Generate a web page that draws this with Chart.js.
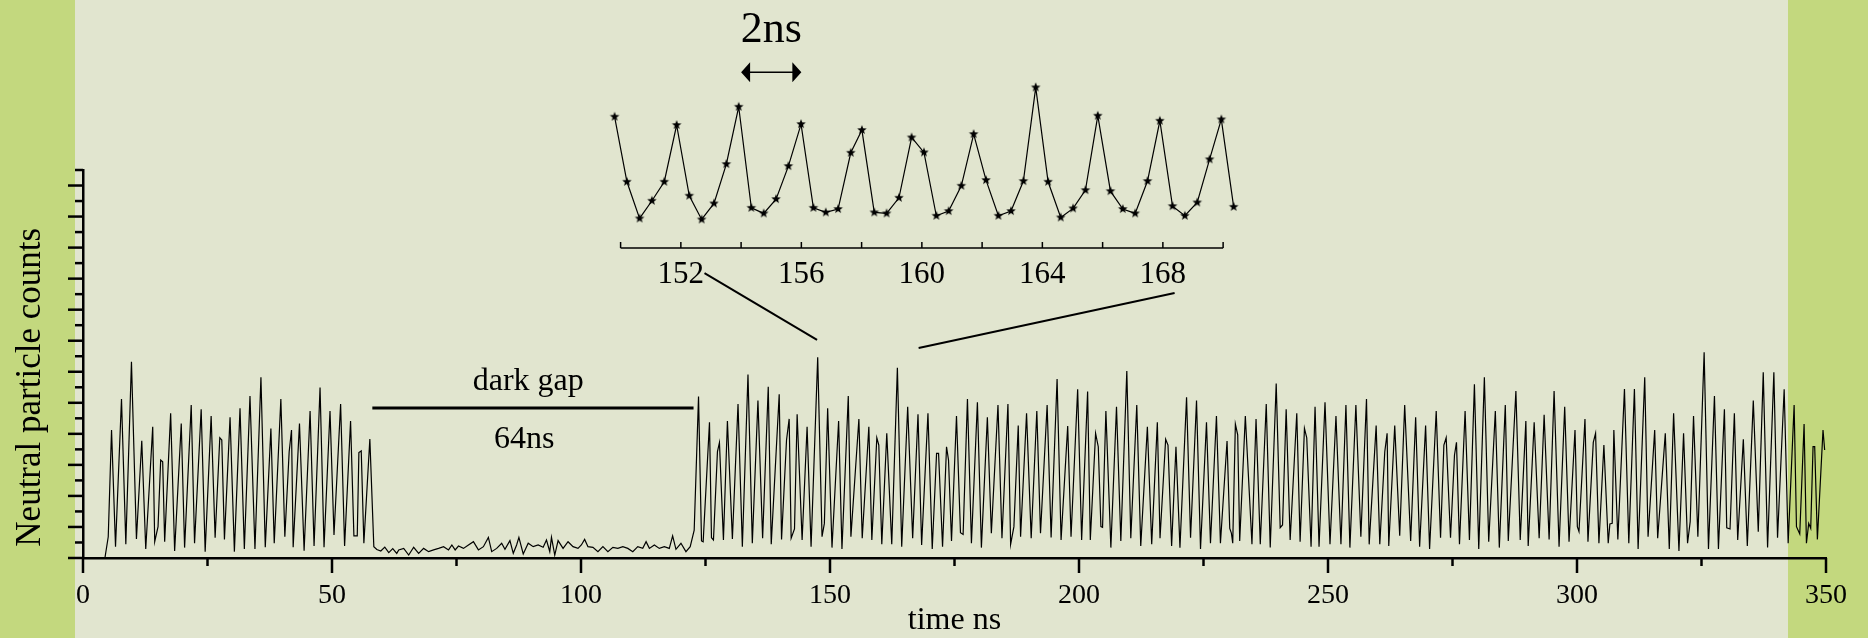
<!DOCTYPE html>
<html>
<head>
<meta charset="utf-8">
<script src="https://cdn.jsdelivr.net/npm/chart.js@4.4.1/dist/chart.umd.min.js"></script>
<style>
  html, body { margin: 0; padding: 0; }
  body {
    width: 1868px; height: 638px; position: relative; overflow: hidden;
    background: linear-gradient(to right, #c3d87e 0 75px, #e1e5cf 75px 1788px, #c3d87e 1788px);
  }
  #main { position: absolute; left: 0; top: 0; }
  #inset { position: absolute; left: 560px; top: 0; }
</style>
</head>
<body>
<canvas id="main" width="1868" height="638"></canvas>
<canvas id="inset" width="720" height="300"></canvas>
<script>
// time (ns), counts: peaks and valleys
const pulsesBeforeGap = [
    [4.4,0],[5.07,1.37],[5.73,8.25],[6.53,0.73],[7.73,10.24],[8.6,0.88],[9.73,12.65],[10.73,1.22],
    [11.8,7.56],[12.6,0.58],[14.0,8.46],[14.4,1.05],[15.07,2.02],[15.6,6.31],[16.0,6.2],[16.4,1.05],
    [17.6,9.32],[18.4,0.45],[19.73,8.66],[20.4,0.67],[21.73,9.86],[22.4,0.95],[23.73,9.58],[24.53,0.41],
    [25.73,9.15],[26.53,1.31],[27.47,7.75],[27.87,7.6],[28.4,1.2],[29.53,9.06],[30.4,0.41],[31.53,9.64],
    [32.4,0.58],[33.53,10.44],[34.53,0.58],[35.73,11.64],[36.6,0.69],[37.73,8.35],[38.4,0.95],[39.73,10.24],
    [40.53,1.37],[41.4,6.85],[41.87,8.25],[42.2,0.69],[43.47,8.66],[44.4,0.47],[45.6,9.47],[46.4,0.77],
    [47.6,10.98],[48.4,0.69],[49.6,9.47],[50.4,1.48],[51.73,9.92],[52.53,0.77],[53.73,8.83],[54.4,1.42],
    [55.07,1.42],[55.4,6.8],[55.87,6.9],[56.4,0.95],[57.6,7.67],[58.4,0.73]
];
const darkGapNoise = [
    [59.0,0.55],[59.8,0.45],[60.6,0.7],[61.4,0.35],[62.2,0.6],[63.0,0.3],[63.4,0.52],[64.4,0.62],
    [65.4,0.19],[66.4,0.69],[67.4,0.3],[68.4,0.62],[69.4,0.41],[70.4,0.52],[71.4,0.62],[72.4,0.73],
    [73.4,0.52],[74.07,0.84],[74.73,0.52],[75.4,0.77],[76.4,0.62],[77.4,0.84],[78.4,1.05],[79.4,0.52],
    [80.4,0.73],[81.4,1.33],[82.07,0.41],[83.07,0.62],[84.07,0.95],[84.73,0.56],[85.73,1.12],[86.4,0.3],
    [87.07,0.84],[87.53,1.33],[88.4,0.26],[89.4,0.95],[90.4,0.73],[91.4,0.84],[92.4,0.69],[93.07,1.16],
    [93.73,0.41],[94.07,1.33],[94.73,0.19],[95.4,1.12],[96.4,0.62],[97.4,1.05],[98.4,0.73],[99.4,0.62],
    [100.07,0.84],[100.73,1.2],[101.4,0.73],[102.4,0.69],[103.4,0.41],[104.4,0.73],[105.4,0.41],[106.4,0.69],
    [107.4,0.62],[108.4,0.73],[109.4,0.62],[110.4,0.41],[111.4,0.73],[112.4,0.62],[113.07,1.05],[113.73,0.62],
    [114.73,0.84],[115.73,0.62],[116.73,0.73],[117.73,0.62],[118.4,1.42],[119.07,0.56],[120.07,0.95],[121.07,0.41],
    [121.93,0.73],[122.73,1.8]
];
const pulsesAfterGap = [
    [123.6,10.4],[124.2,1.1],[124.53,1.05],[125.8,8.74],[126.2,1.31],[126.6,1.16],[127.4,6.85],[127.8,7.43],
    [128.6,1.16],[129.4,8.83],[130.4,1.22],[131.53,9.92],[132.4,0.73],[133.53,11.83],[134.4,0.95],[135.53,10.14],
    [136.47,1.27],[137.6,11.04],[138.2,0.88],[139.8,10.55],[140.27,1.2],[141.27,7.6],[141.8,8.96],[142.2,1.27],
    [142.87,1.87],[143.4,9.26],[144.4,1.16],[145.4,8.46],[146.2,0.73],[147.53,12.93],[148.4,1.37],[148.87,2.23],
    [149.53,9.64],[150.4,0.67],[151.73,8.83],[152.4,0.58],[153.67,10.44],[154.2,1.37],[155.8,8.96],[156.47,1.27],
    [157.8,8.46],[158.4,1.16],[159.4,7.75],[159.8,7.28],[160.4,0.88],[161.4,8.03],[162.4,0.88],[163.53,12.26],
    [164.4,0.73],[165.6,9.75],[166.6,1.27],[167.67,9.26],[168.4,0.84],[169.67,9.32],[170.53,0.58],[171.4,6.74],
    [171.8,6.74],[172.6,0.73],[173.4,7.17],[173.8,6.31],[174.4,1.1],[175.4,9.15],[176.2,1.63],[176.73,1.52],
    [177.6,10.24],[178.4,0.95],[179.6,10.03],[180.4,0.67],[181.6,9.06],[182.4,1.59],[183.73,9.86],[184.53,1.27],
    [185.73,9.92],[186.27,0.88],[186.93,2.02],[187.8,8.53],[188.27,1.37],[189.47,9.32],[190.4,1.27],[191.53,9.47],
    [192.27,1.59],[193.6,9.86],[194.4,1.33],[195.6,11.53],[196.4,1.16],[197.73,8.51],[198.4,1.37],[199.73,10.87],
    [200.53,1.16],[201.73,10.72],[202.27,1.16],[203.33,8.03],[203.87,7.17],[204.4,2.02],[204.73,1.98],[205.4,9.47],
    [206.4,0.67],[207.53,9.75],[208.4,1.1],[209.6,12.05],[210.4,1.27],[211.6,9.86],[212.4,0.77],[213.73,8.46],
    [214.6,0.88],[215.73,8.74],[216.27,1.27],[217.4,7.65],[217.87,7.28],[218.6,0.77],[219.47,7.17],[220.27,0.67],
    [221.6,10.35],[222.4,1.31],[223.6,10.14],[224.4,0.58],[225.6,8.74],[226.4,0.95],[227.6,9.15],[228.4,0.95],
    [229.73,7.54],[230.27,1.91],[230.6,1.6],[230.87,0.95],[231.4,8.63],[231.87,7.93],[232.27,1.1],[233.4,9.15],
    [234.73,0.88],[235.55,8.96],[236.4,0.88],[237.6,9.92],[238.4,0.67],[239.6,11.25],[240.4,1.95],[240.87,2.13],
    [241.6,9.58],[242.4,1.16],[243.73,9.32],[244.4,1.05],[245.27,8.35],[245.73,7.75],[246.6,0.73],[247.4,9.75],
    [248.2,0.73],[249.4,10.03],[250.4,0.88],[251.6,9.15],[252.6,0.88],[253.6,9.86],[254.4,0.67],[255.6,9.86],
    [256.6,1.37],[257.73,10.24],[258.27,0.88],[259.67,8.53],[260.4,0.88],[261.4,6.85],[261.87,8.03],[262.2,0.77],
    [263.4,8.53],[264.4,1.44],[265.4,9.86],[266.6,1.1],[267.6,9.06],[268.4,0.73],[269.6,8.53],[270.4,0.58],
    [271.73,9.47],[272.6,1.31],[273.27,7.28],[273.73,7.75],[274.6,1.31],[275.4,6.64],[275.8,7.45],[276.4,0.88],
    [277.53,9.47],[278.4,1.16],[279.4,11.19],[280.27,0.58],[281.4,11.64],[282.27,1.05],[283.6,9.47],[284.4,0.67],
    [285.6,9.86],[286.2,1.1],[287.73,10.76],[288.6,1.16],[289.73,8.83],[290.2,0.77],[291.4,8.74],[292.4,1.27],
    [293.4,9.23],[294.4,1.2],[295.4,10.76],[296.4,0.73],[297.53,9.75],[298.4,1.05],[299.6,8.25],[300.07,2.02],
    [300.4,1.7],[301.6,8.96],[302.2,1.05],[303.27,7.45],[303.73,8.03],[304.4,0.95],[305.4,7.28],[306.27,0.95],
    [306.6,2.19],[307.07,2.23],[307.4,8.25],[308.2,1.2],[309.53,10.89],[310.4,0.95],[311.53,10.89],[312.27,0.58],
    [313.6,11.64],[314.27,1.37],[315.6,8.25],[316.2,1.27],[317.73,8.03],[318.53,0.58],[319.4,9.32],[320.47,0.45],
    [321.4,8.03],[322.2,0.95],[322.73,2.34],[323.4,9.15],[324.27,1.37],[325.53,13.25],[326.4,0.58],[327.6,10.44],
    [328.4,0.58],[329.6,9.58],[330.07,1.95],[330.73,1.87],[331.6,9.32],[332.27,1.16],[333.4,7.65],[334.2,0.77],
    [335.4,10.14],[336.4,1.7],[337.4,11.96],[338.27,0.67],[339.53,11.96],[340.27,1.31],[341.6,10.87],[342.4,0.95],
    [343.6,9.86],[344.07,2.02],[344.73,1.55],[345.6,8.63],[346.07,0.95],[346.53,2.23],[346.93,1.91],[347.4,7.17],
    [347.73,7.17],[348.27,1.2],[349.4,8.25],[349.73,6.96]
];

// inset: sampled trace between 150 and 170 ns
const insetTime = [149.8,150.21,150.63,151.04,151.45,151.86,152.28,152.69,153.1,153.51,153.92,154.34,154.75,
    155.16,155.57,155.99,156.4,156.81,157.22,157.64,158.01,158.42,158.83,159.24,159.66,160.07,160.48,160.89,
    161.31,161.72,162.13,162.54,162.96,163.37,163.78,164.19,164.61,165.02,165.43,165.84,166.26,166.67,167.08,
    167.49,167.9,168.32,168.73,169.14,169.55,169.94,170.35];
const insetCounts = [9.63,3.82,0.54,2.12,3.82,8.89,2.57,0.45,1.88,5.4,10.52,1.49,0.99,2.27,5.22,8.97,1.49,
    1.08,1.38,6.41,8.44,1.08,0.99,2.39,7.78,6.44,0.78,1.2,3.46,8.08,3.97,0.78,1.2,3.88,12.25,3.82,0.63,1.44,
    3.07,9.72,2.98,1.38,0.99,3.88,9.27,1.64,0.78,1.97,5.82,9.39,1.58];
const insetTicks = [150, 152, 154, 156, 158, 160, 162, 164, 166, 168, 170];

const serif = 'Liberation Serif, Times New Roman, serif';

// filled five point star used as point marker
function starMarker(r) {
    const c = document.createElement('canvas');
    c.width = c.height = r * 2 + 2;
    const g = c.getContext('2d');
    g.translate(r + 1, r + 1);
    g.beginPath();
    for (let i = 0; i < 10; i++) {
        const rad = i % 2 === 0 ? r : r * 0.42;
        const a = -Math.PI / 2 + i * Math.PI / 5;
        g.lineTo(Math.cos(a) * rad, Math.sin(a) * rad);
    }
    g.closePath();
    g.fillStyle = '#000';
    g.fill();
    return c;
}

function line(ctx, x1, y1, x2, y2) {
    ctx.beginPath();
    ctx.moveTo(x1, y1);
    ctx.lineTo(x2, y2);
    ctx.stroke();
}

const mainDecor = {
    id: 'mainDecor',
    afterDraw(chart) {
        const { ctx, scales: { x, y } } = chart;
        ctx.save();
        ctx.strokeStyle = '#000';
        ctx.fillStyle = '#000';
        ctx.lineWidth = 2.5;
        x.ticks.forEach(t => {
            const px = x.getPixelForValue(t.value);
            line(ctx, px, x.top, px, x.top + (t.value % 50 === 0 ? 15 : 8));
        });
        y.ticks.forEach(t => {
            const py = y.getPixelForValue(t.value);
            line(ctx, y.right, py, y.right - (t.value % 2 === 0 ? 15 : 8), py);
        });

        // dark gap marker
        ctx.lineWidth = 3;
        line(ctx, x.getPixelForValue(58.1), y.getPixelForValue(9.66), x.getPixelForValue(122.6), y.getPixelForValue(9.66));
        ctx.font = '32px ' + serif;
        ctx.textAlign = 'center';
        ctx.textBaseline = 'alphabetic';
        ctx.fillText('dark gap', x.getPixelForValue(89.4), y.getPixelForValue(10.82));
        ctx.fillText('64ns', x.getPixelForValue(88.6), y.getPixelForValue(7.09));

        // zoom connectors
        ctx.lineWidth = 2;
        line(ctx, x.getPixelForValue(124.8), y.getPixelForValue(18.36), x.getPixelForValue(147.4), y.getPixelForValue(14.05));
        line(ctx, x.getPixelForValue(219.2), y.getPixelForValue(17.07), x.getPixelForValue(167.8), y.getPixelForValue(13.53));

        // y title
        ctx.translate(y.left + 31, y.getPixelForValue(11));
        ctx.rotate(-Math.PI / 2);
        ctx.font = '35px ' + serif;
        ctx.textBaseline = 'middle';
        ctx.fillText('Neutral particle counts', 0, 0);
        ctx.restore();
    }
};

const insetDecor = {
    id: 'insetDecor',
    afterDraw(chart) {
        const { ctx, scales: { x, y } } = chart;
        ctx.save();
        ctx.strokeStyle = '#000';
        ctx.fillStyle = '#000';
        ctx.lineWidth = 1.5;
        line(ctx, x.getPixelForValue(150), x.top, x.getPixelForValue(170), x.top);
        x.ticks.forEach(t => {
            const px = x.getPixelForValue(t.value);
            line(ctx, px, x.top, px, x.top - 6);
        });
        // 2 ns arrow
        const x1 = x.getPixelForValue(154), x2 = x.getPixelForValue(156), ay = y.getPixelForValue(13.6);
        line(ctx, x1 + 6, ay, x2 - 6, ay);
        ctx.beginPath();
        ctx.moveTo(x1, ay); ctx.lineTo(x1 + 9, ay - 10); ctx.lineTo(x1 + 9, ay + 10); ctx.closePath();
        ctx.moveTo(x2, ay); ctx.lineTo(x2 - 9, ay - 10); ctx.lineTo(x2 - 9, ay + 10); ctx.closePath();
        ctx.fill();
        ctx.font = '44px ' + serif;
        ctx.textAlign = 'center';
        ctx.textBaseline = 'alphabetic';
        ctx.fillText('2ns', x.getPixelForValue(155), y.getPixelForValue(16.33));
        ctx.restore();
    }
};

const trace = [...pulsesBeforeGap, ...darkGapNoise, ...pulsesAfterGap].map(([t, c]) => ({ x: t, y: c }));

new Chart(document.getElementById('main'), {
    type: 'line',
    data: {
        datasets: [{
            data: trace,
            borderColor: '#000',
            borderWidth: 1.2,
            pointRadius: 0,
            tension: 0
        }]
    },
    options: {
        responsive: false,
        animation: false,
        layout: { padding: { left: 0, right: 35, top: 170, bottom: 0 } },
        plugins: { legend: { display: false }, tooltip: { enabled: false } },
        scales: {
            x: {
                type: 'linear',
                min: 0,
                max: 350,
                grid: { display: false, drawTicks: false },
                border: { display: true, color: '#000', width: 2.5 },
                ticks: {
                    stepSize: 25,
                    autoSkip: false,
                    maxRotation: 0,
                    padding: 21,
                    color: '#000',
                    font: { family: serif, size: 28 },
                    callback: v => (v % 50 === 0 ? v : '')
                },
                title: {
                    display: true,
                    text: 'time ns',
                    color: '#000',
                    padding: 0,
                    font: { family: serif, size: 32, lineHeight: 1.1 }
                },
                afterFit: s => { s.height = 80; }
            },
            y: {
                min: 0,
                max: 25,
                grid: { display: false, drawTicks: false },
                border: { display: true, color: '#000', width: 2.5 },
                ticks: { display: false, stepSize: 1 },
                afterFit: s => { s.width = 83; }
            }
        }
    },
    plugins: [mainDecor]
});

// inset axis runs 150..170, scale is a little wider so the edge stars are kept
new Chart(document.getElementById('inset'), {
    type: 'line',
    data: {
        datasets: [{
            data: insetTime.map((t, i) => ({ x: t, y: insetCounts[i] })),
            borderColor: '#000',
            borderWidth: 1.2,
            pointStyle: starMarker(5),
            pointRadius: 5,
            tension: 0,
            clip: false
        }]
    },
    options: {
        responsive: false,
        animation: false,
        layout: { padding: { left: 48.55, right: 38.8, top: 60, bottom: 0 } },
        plugins: { legend: { display: false }, tooltip: { enabled: false } },
        scales: {
            x: {
                type: 'linear',
                min: 149.6,
                max: 170.6,
                grid: { display: false, drawTicks: false },
                border: { display: false },
                afterBuildTicks: s => { s.ticks = insetTicks.map(v => ({ value: v })); },
                ticks: {
                    autoSkip: false,
                    maxRotation: 0,
                    padding: 8,
                    color: '#000',
                    font: { family: serif, size: 31 },
                    callback: v => (v % 4 === 0 ? v : '')
                },
                afterFit: s => { s.height = 52; }
            },
            y: { display: false, min: -2.1, max: 14.7 }
        }
    },
    plugins: [insetDecor]
});
</script>
</body>
</html>
